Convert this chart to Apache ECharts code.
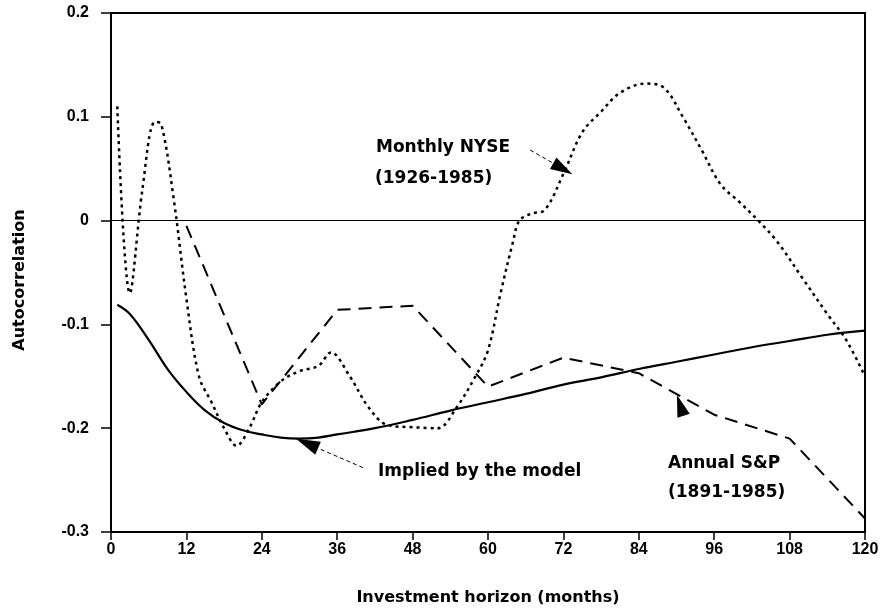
<!DOCTYPE html>
<html>
<head>
<meta charset="utf-8">
<title>Autocorrelation vs investment horizon</title>
<script src="https://cdn.jsdelivr.net/npm/echarts@6/dist/echarts.min.js"></script>
<style>
  html, body { margin: 0; padding: 0; background: #fff; }
  #main { width: 888px; height: 613px; }
</style>
</head>
<body>
<div id="main"></div>
<script>
// x ticks (months)
const monthTicks = [0, 12, 24, 36, 48, 60, 72, 84, 96, 108, 120];

// Monthly NYSE (1926-1985), dotted
const nyseMonths = [1, 3, 5, 7, 8, 10, 12, 14, 16, 18, 20, 22, 24, 27, 30, 33, 35, 38, 41, 44, 48, 52, 55, 58, 60, 62, 64, 65, 67, 69, 72, 75, 78, 81, 85, 88, 91, 94, 97, 100, 103, 106, 110, 114, 117, 120];
const nyseValues = [0.11, -0.07, 0.03, 0.095, 0.093, 0.02, -0.075, -0.15, -0.175, -0.2, -0.217, -0.2, -0.175, -0.155, -0.145, -0.14, -0.127, -0.15, -0.18, -0.197, -0.199, -0.2, -0.18, -0.15, -0.125, -0.07, -0.02, 0, 0.007, 0.01, 0.045, 0.085, 0.105, 0.123, 0.132, 0.128, 0.1, 0.068, 0.035, 0.018, 0, -0.02, -0.055, -0.09, -0.115, -0.15];

// Annual S&P (1891-1985), dashed
const spMonths = [12, 24, 36, 48, 60, 72, 84, 96, 108, 120];
const spValues = [-0.005, -0.177, -0.086, -0.082, -0.16, -0.132, -0.147, -0.187, -0.21, -0.287];

// Implied by the model, solid
const modelMonths = [1, 3, 6, 9, 12, 15, 18, 21, 24, 27, 30, 33, 36, 42, 48, 54, 60, 66, 72, 78, 84, 90, 96, 102, 108, 114, 120];
const modelValues = [-0.081, -0.09, -0.115, -0.143, -0.165, -0.183, -0.195, -0.202, -0.206, -0.209, -0.21, -0.209, -0.206, -0.2, -0.192, -0.183, -0.175, -0.167, -0.158, -0.151, -0.143, -0.136, -0.129, -0.122, -0.116, -0.11, -0.106];

const pairs = (xs, ys) => xs.map((x, i) => [x, ys[i]]);

const font = '"DejaVu Sans", "Liberation Sans", Arial, sans-serif';
const tickFont = '"Liberation Sans", Arial, sans-serif';

const chart = echarts.init(document.getElementById('main'));

// arrow helper in data coordinates
const arrow = (from, to, size, width) => ({
  type: 'line',
  data: [],
  silent: true,
  markLine: {
    silent: true,
    symbol: ['none', 'triangle'],
    symbolSize: size,
    label: { show: false },
    lineStyle: { color: '#000', width: width, type: [4, 3] },
    emphasis: { disabled: true },
    data: [[{ coord: from }, { coord: to }]]
  }
});

chart.setOption({
  animation: false,
  backgroundColor: '#fff',
  grid: {
    left: 111, right: 23, top: 13, bottom: 81,
    show: true, borderColor: '#000', borderWidth: 2
  },
  xAxis: {
    type: 'value',
    min: 0, max: 120, interval: 12,
    name: 'Investment horizon (months)',
    nameLocation: 'middle',
    nameGap: 58,
    nameTextStyle: { color: '#000', fontSize: 16, fontWeight: 'bold', fontFamily: font },
    axisLine: { onZero: false, lineStyle: { color: '#000', width: 2 } },
    axisTick: { show: true, length: 8, lineStyle: { color: '#000', width: 1.5 } },
    axisLabel: { color: '#000', fontSize: 16, fontWeight: 'bold', fontFamily: tickFont, margin: 10 },
    splitLine: { show: false }
  },
  yAxis: {
    type: 'value',
    min: -0.3, max: 0.2, interval: 0.1,
    axisLine: { lineStyle: { color: '#000', width: 2 } },
    axisTick: { show: true, length: 10, lineStyle: { color: '#000', width: 1.5 } },
    axisLabel: {
      color: '#000', fontSize: 16, fontWeight: 'bold', fontFamily: tickFont, margin: 22,
      formatter: v => {
        const r = Math.round(v * 10) / 10;
        return r === 0 ? '0' : r.toFixed(1);
      }
    },
    splitLine: { show: false }
  },
  series: [
    {
      name: 'Monthly NYSE',
      type: 'line',
      data: pairs(nyseMonths, nyseValues),
      smooth: 0.35,
      showSymbol: false,
      lineStyle: { color: '#000', width: 2.5, type: [3, 4] },
      markLine: {
        silent: true,
        symbol: 'none',
        label: { show: false },
        lineStyle: { color: '#000', width: 1, type: 'solid' },
        data: [{ yAxis: 0 }]
      }
    },
    {
      name: 'Annual S&P',
      type: 'line',
      data: pairs(spMonths, spValues),
      showSymbol: false,
      lineStyle: { color: '#000', width: 2, type: [13, 8] }
    },
    {
      name: 'Implied by the model',
      type: 'line',
      data: pairs(modelMonths, modelValues),
      smooth: 0.4,
      showSymbol: false,
      lineStyle: { color: '#000', width: 2.2, type: 'solid' }
    },
    arrow([66.7, 0.068], [71.9, 0.05], [13, 22], 1),
    arrow([40.1, -0.238], [31.2, -0.2147], [14, 24], 1),
    arrow([91.6, -0.197], [90.6, -0.178], [13, 22], 0)
  ],
  graphic: [
    { type: 'text', x: 20, y: 280, rotation: Math.PI / 2,
      style: { text: 'Autocorrelation', font: 'bold 16px ' + font, fill: '#000',
        align: 'center', verticalAlign: 'middle' } },
    { type: 'text', left: 376, top: 139,
      style: { text: 'Monthly NYSE', font: 'bold 17px ' + font, fill: '#000' } },
    { type: 'text', left: 375, top: 170,
      style: { text: '(1926-1985)', font: 'bold 17px ' + font, fill: '#000' } },
    { type: 'text', left: 378, top: 463,
      style: { text: 'Implied by the model', font: 'bold 17px ' + font, fill: '#000' } },
    { type: 'text', left: 668, top: 455,
      style: { text: 'Annual S&P', font: 'bold 17px ' + font, fill: '#000' } },
    { type: 'text', left: 668, top: 484,
      style: { text: '(1891-1985)', font: 'bold 17px ' + font, fill: '#000' } }
  ]
});
</script>
</body>
</html>
